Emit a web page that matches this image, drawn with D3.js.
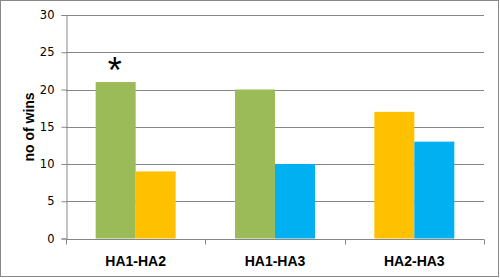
<!DOCTYPE html>
<html><head><meta charset="utf-8">
<script src="https://cdn.jsdelivr.net/npm/d3@7"></script>
<style>body{margin:0;background:#fff}svg{display:block}</style>
</head><body>
<script>
const categories = ["HA1-HA2", "HA1-HA3", "HA2-HA3"];
const seriesNames = ["HA1", "HA2", "HA3"];
const seriesColors = ["#9BBB59", "#FFC000", "#00B0F0"];
// each group: two bars [series, value]
const groupSeries = [["HA1", "HA2"], ["HA1", "HA3"], ["HA2", "HA3"]];
const groupValues = [[21, 9], [20, 10], [17, 13]];
const yTicks = [0, 5, 10, 15, 20, 25, 30];
const annotations = [{cat: "HA1-HA2", bar: 0, text: "*"}];

(function () {
const W = 500, H = 278;
const svg = d3.select("body").append("svg").attr("width", W).attr("height", H);
svg.append("rect").attr("x", 0.5).attr("y", 0.5).attr("width", 498).attr("height", 276)
  .attr("fill", "#fff").attr("stroke", "#888").attr("stroke-width", 1);

const pl = 66, pr = 484, pt = 15, pb = 238.5;
const x = d3.scaleBand().domain(categories).range([pl, pr]);
const y = d3.scaleLinear().domain([0, 30]).range([pb, pt]);
const color = d3.scaleOrdinal().domain(seriesNames).range(seriesColors);
const barW = 40;

// gridlines
svg.append("g").selectAll("line").data(yTicks.filter(d => d > 0)).join("line")
  .attr("x1", pl).attr("x2", pr)
  .attr("y1", d => Math.round(y(d)) + 0.5).attr("y2", d => Math.round(y(d)) + 0.5)
  .attr("stroke", "#868686").attr("stroke-width", 1);

// bars
categories.forEach((c, i) => {
  const cx = x(c) + x.bandwidth() / 2;
  groupValues[i].forEach((v, j) => {
    svg.append("rect")
      .attr("x", cx - barW + j * barW).attr("width", barW)
      .attr("y", y(v)).attr("height", y(0) - y(v))
      .attr("fill", color(groupSeries[i][j]));
  });
});

// y axis
const yAxis = d3.axisLeft(y).tickValues(yTicks).tickSize(5).tickPadding(7);
const gy = svg.append("g").attr("transform", `translate(${pl + 0.5},0)`).call(yAxis);
gy.select(".domain").attr("stroke", "#868686");
gy.selectAll(".tick line").attr("stroke", "#868686");
gy.selectAll("text").attr("font-family", "Verdana, 'DejaVu Sans', sans-serif")
  .attr("font-size", 11.5).attr("fill", "#000");

// x axis
const gx = svg.append("g").attr("transform", `translate(0,${Math.round(pb) + 0.5})`);
gx.append("line").attr("x1", pl).attr("x2", pr).attr("stroke", "#868686");
const bounds = categories.map(c => x(c)).concat([x(categories[categories.length - 1]) + x.bandwidth()]);
gx.selectAll("line.tk").data(bounds).join("line").attr("class", "tk")
  .attr("x1", d => Math.round(d) + 0.5).attr("x2", d => Math.round(d) + 0.5)
  .attr("y1", 0).attr("y2", 5).attr("stroke", "#868686");
gx.selectAll("text").data(categories).join("text")
  .attr("x", d => x(d) + x.bandwidth() / 2).attr("y", 26.5)
  .attr("text-anchor", "middle")
  .attr("font-family", "'Liberation Sans', Arial, sans-serif").attr("font-weight", "bold")
  .attr("font-size", 14).attr("fill", "#000").text(d => d);

// y title
svg.append("text").attr("transform", "translate(34,127) rotate(-90)")
  .attr("text-anchor", "middle")
  .attr("font-family", "'Liberation Sans', Arial, sans-serif").attr("font-weight", "bold")
  .attr("font-size", 14).attr("fill", "#000").text("no of wins");

// annotation
annotations.forEach(a => {
  const i = categories.indexOf(a.cat);
  const cx = x(a.cat) + x.bandwidth() / 2 - barW + a.bar * barW + barW / 2;
  svg.append("text").attr("x", cx - 1).attr("y", y(groupValues[i][a.bar]) + 1)
    .attr("text-anchor", "middle")
    .attr("font-family", "'Liberation Sans', Arial, sans-serif")
    .attr("font-size", 36).attr("fill", "#000").text(a.text);
});
})();
</script>
</body></html>
